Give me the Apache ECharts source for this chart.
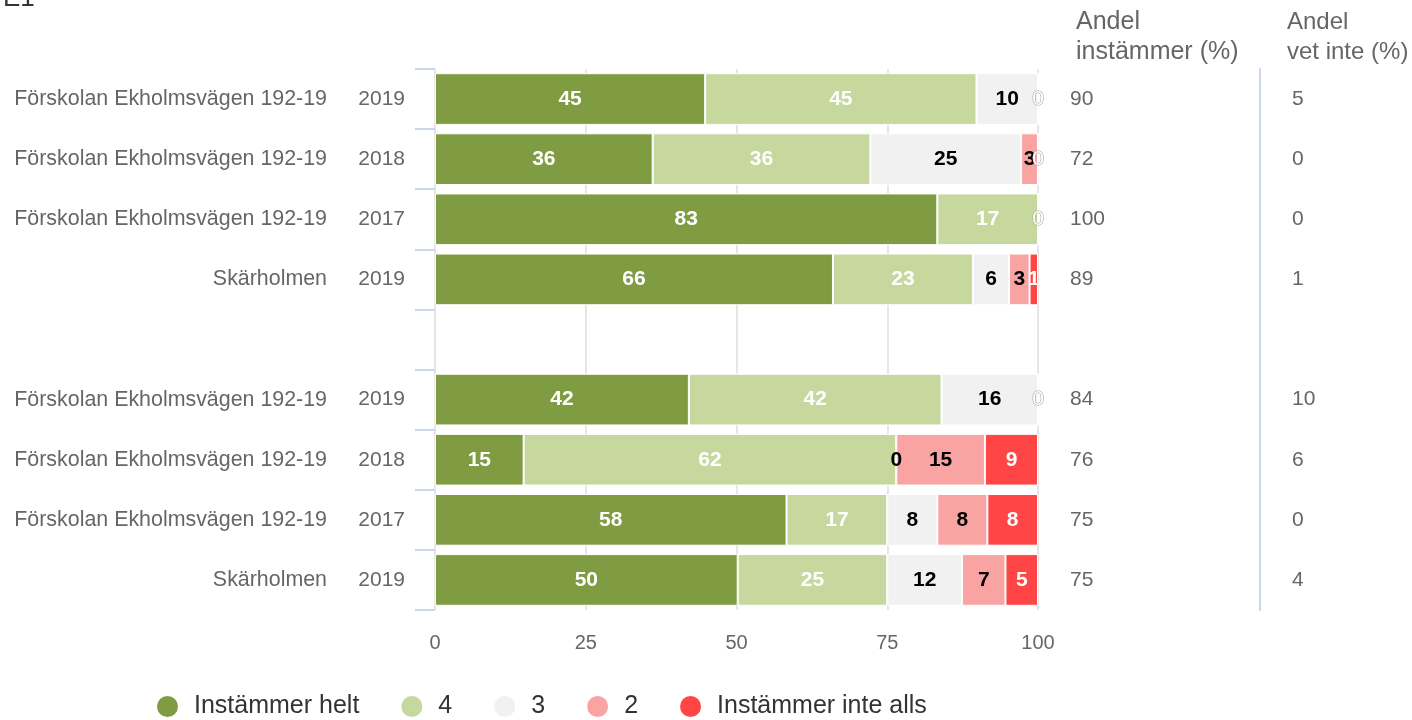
<!DOCTYPE html>
<html>
<head>
<meta charset="utf-8">
<script src="https://cdn.jsdelivr.net/npm/echarts@6/dist/echarts.min.js"></script>
<style>
  html, body { margin: 0; padding: 0; background: #fff; }
  #chart { width: 1412px; height: 720px; }
</style>
</head>
<body>
<div id="chart"></div>
<script>
// categories (row 4 is the empty spacer row)
const names = ['Förskolan Ekholmsvägen 192-19', 'Förskolan Ekholmsvägen 192-19', 'Förskolan Ekholmsvägen 192-19', 'Skärholmen', '',
               'Förskolan Ekholmsvägen 192-19', 'Förskolan Ekholmsvägen 192-19', 'Förskolan Ekholmsvägen 192-19', 'Skärholmen'];
const years = ['2019', '2018', '2017', '2019', '', '2019', '2018', '2017', '2019'];

// percentages per answer option
const seriesNames = ['Instämmer helt', '4', '3', '2', 'Instämmer inte alls'];
const helt    = [44.8, 36.1, 83.3, 66.0, null, 42.1, 14.7, 58.3, 50.2];
const fyra    = [45.0, 36.1, 16.7, 23.2, null, 41.9, 61.8, 16.7, 24.8];
const tre     = [10.2, 25.0, 0, 6.0, null, 16.0, 0, 8.3, 12.4];
const tva     = [0, 2.8, 0, 3.4, null, 0, 14.7, 8.3, 7.2];
const inteAls = [0, 0, 0, 1.4, null, 0, 8.8, 8.4, 5.4];

// side columns
const andelInstammer = ['90', '72', '100', '89', '', '84', '76', '75', '75'];
const andelVetInte = ['5', '0', '0', '1', '', '10', '6', '0', '4'];

const colors = ['#809c43', '#c6d89e', '#f1f1f1', '#faa3a3', '#ff4545'];
const labelColors = ['#fff', '#fff', '#000', '#000', '#fff'];
const values = [helt, fyra, tre, tva, inteAls];

const font = '"Liberation Sans", Arial, sans-serif';

function buildData(s) {
    return values[s].map(function (v, i) {
        if (v === null) return '-';
        let item = { value: v };
        if (v === 0) {
            // zero labels only shown where no later segment sits on the same spot
            const next = values[s + 1];
            const visible = !next || next[i] !== 0;
            item.label = labelColors[s] === '#fff'
                ? { show: visible, color: '#fff', textBorderColor: '#999', textBorderWidth: 1, fontWeight: 'normal' }
                : { show: visible };
        }
        return item;
    });
}

const chart = echarts.init(document.getElementById('chart'), null, { renderer: 'canvas' });

const option = {
    animation: false,
    textStyle: { fontFamily: font },
    color: colors,
    graphic: [
        { type: 'text', left: 3, top: -14, style: { text: 'E1', font: '26px ' + font, fill: '#333' } },
        { type: 'text', left: 1076, top: 7, style: { text: 'Andel\ninstämmer (%)', font: '25px ' + font, fill: '#666', lineHeight: 30 } },
        { type: 'text', left: 1287, top: 7, style: { text: 'Andel\nvet inte (%)', font: '24px ' + font, fill: '#666', lineHeight: 30 } }
    ],
    grid: { left: 435, right: 374, top: 69, bottom: 110, containLabel: false },
    legend: {
        data: seriesNames,
        left: 150,
        top: 689,
        icon: 'circle',
        itemWidth: 23,
        itemHeight: 23,
        itemGap: 40,
        textStyle: { fontSize: 25, color: '#333', fontFamily: font, padding: [0, 0, 0, 10] }
    },
    xAxis: {
        type: 'value',
        min: 0,
        max: 100,
        interval: 25,
        axisLine: { show: false },
        axisTick: { show: false },
        axisLabel: { fontSize: 20, color: '#666', margin: 23 },
        splitLine: { lineStyle: { color: '#e6e6e6', width: 2 } }
    },
    yAxis: [
        {
            type: 'category',
            inverse: true,
            data: years,
            axisLine: { show: false },
            axisTick: { show: true, length: 20, lineStyle: { color: '#ccd6eb', width: 2 } },
            axisLabel: { fontSize: 21, color: '#666', margin: 30 }
        },
        {
            type: 'category',
            inverse: true,
            position: 'left',
            offset: 78,
            data: names,
            axisLine: { show: false },
            axisTick: { show: false },
            axisLabel: { fontSize: 21.4, color: '#666', margin: 30 }
        },
        {
            type: 'category',
            inverse: true,
            position: 'right',
            data: andelInstammer,
            axisLine: { show: false },
            axisTick: { show: false },
            axisLabel: { fontSize: 21, color: '#666', margin: 32 }
        },
        {
            type: 'category',
            inverse: true,
            position: 'right',
            offset: 222,
            data: andelVetInte,
            axisLine: { show: true, lineStyle: { color: '#ccd6eb', width: 2 } },
            axisTick: { show: false },
            axisLabel: { fontSize: 21, color: '#666', margin: 32 }
        }
    ],
    series: seriesNames.map(function (name, s) {
        return {
            name: name,
            type: 'bar',
            stack: 'total',
            yAxisIndex: 0,
            barCategoryGap: '14%',
            itemStyle: { borderColor: '#fff', borderWidth: 1 },
            label: {
                show: true,
                position: 'inside',
                fontSize: 21,
                fontWeight: 'bold',
                color: labelColors[s],
                formatter: function (p) { return Math.round(p.value); }
            },
            data: buildData(s)
        };
    })
};

chart.setOption(option);
window.addEventListener('resize', chart.resize);
</script>
</body>
</html>
